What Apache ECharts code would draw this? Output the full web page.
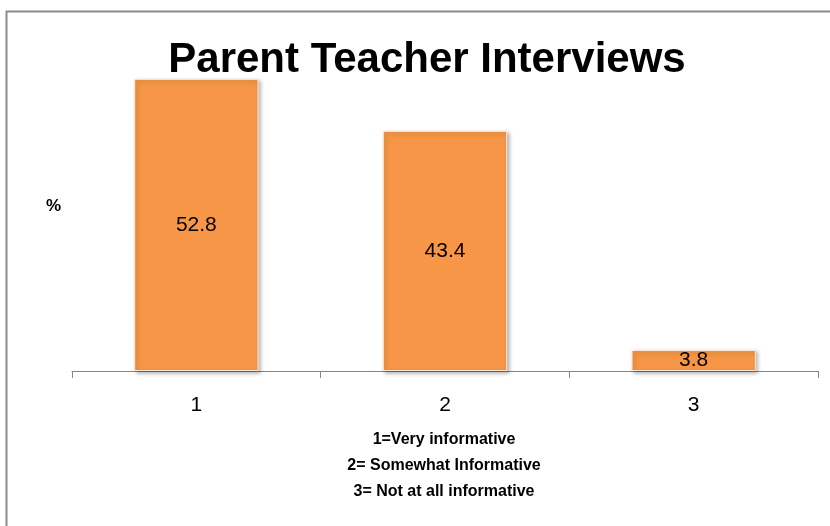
<!DOCTYPE html>
<html>
<head>
<meta charset="utf-8">
<script src="https://cdn.jsdelivr.net/npm/echarts@6/dist/echarts.min.js"></script>
<style>
  html, body { margin: 0; padding: 0; background: #fff; }
  #chart { width: 830px; height: 526px; }
</style>
</head>
<body>
<div id="chart"></div>
<script>
var categories = ['1', '2', '3'];
var percentValues = [52.8, 43.4, 3.8];
var keyLines = ['1=Very informative', '2= Somewhat Informative', '3= Not at all informative'];

var font = '"Liberation Sans", Arial, sans-serif';
var myChart = echarts.init(document.getElementById('chart'));

var keyText = keyLines.map(function (line, i) {
    return {
        type: 'text',
        x: 444, y: 440 + i * 26,
        style: {
            text: line,
            font: 'bold 16px ' + font,
            fill: '#000',
            align: 'center',
            verticalAlign: 'middle'
        }
    };
});

myChart.setOption({
    animation: false,
    graphic: [
        {
            type: 'rect',
            left: 4, top: 9,
            shape: { width: 900, height: 600 },
            style: { fill: 'none', stroke: '#8c8c8c', lineWidth: 2 }
        },
        {
            type: 'text',
            x: 427, y: 60,
            style: {
                text: 'Parent Teacher Interviews',
                font: 'bold 42px ' + font,
                fill: '#000',
                align: 'center',
                verticalAlign: 'middle'
            }
        },
        {
            type: 'text',
            left: 46, top: 198,
            style: { text: '%', font: 'bold 17px ' + font, fill: '#000' }
        }
    ].concat(keyText),
    grid: { left: 72, right: 12, top: 39, bottom: 155 },
    xAxis: {
        type: 'category',
        data: categories,
        axisLine: { lineStyle: { color: '#868686', width: 1 } },
        axisTick: { show: true, length: 7, lineStyle: { color: '#868686' } },
        axisLabel: { fontFamily: font, fontSize: 21, color: '#000', margin: 24 }
    },
    yAxis: {
        type: 'value',
        min: 0,
        max: 60,
        show: false,
        splitLine: { show: false }
    },
    series: [
        {
            type: 'bar',
            data: percentValues,
            barCategoryGap: '50%',
            itemStyle: {
                color: '#F79646',
                borderColor: '#fde9d9',
                borderWidth: 1,
                shadowColor: 'rgba(0,0,0,0.3)',
                shadowBlur: 4,
                shadowOffsetX: 2,
                shadowOffsetY: 2
            },
            label: {
                show: true,
                position: 'inside',
                fontFamily: font,
                fontSize: 21,
                color: '#000'
            }
        }
    ]
});
</script>
</body>
</html>
